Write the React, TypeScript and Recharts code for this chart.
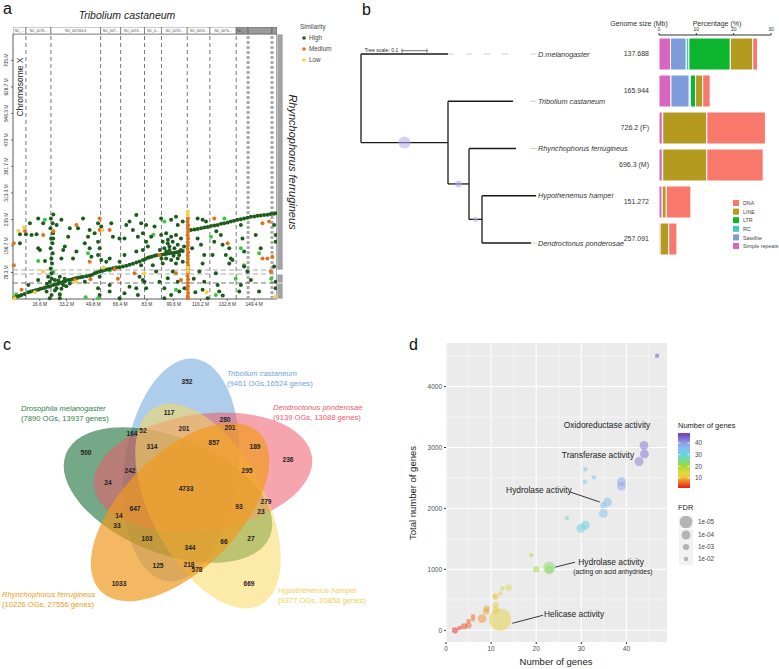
import React from 'react';
import {
  ScatterChart, Scatter, XAxis, YAxis, ReferenceLine, ReferenceArea, CartesianGrid,
  BarChart, Bar, ComposedChart, Line, LabelList,
} from 'recharts';

const FONT = '"Liberation Sans", Arial, Helvetica, sans-serif';

// ---------- panel a: synteny dot plot (Mb) ----------
const dotTicksX = [16.6, 33.2, 49.8, 66.4, 83, 99.6, 116.2, 132.8, 149.4];
const dotTicksY = [78.3, 156.7, 235, 313.3, 391.7, 470, 548.3, 626.7, 705];
const triboliumChrEnds = [8.0, 23.5, 54.3, 66.7, 81.5, 92, 108, 122, 138.3, 145.7, 160.5, 163.6];
const triboliumChrNames = ['NC_...', 'NC_0074...', 'NC_007416.3', 'NC_007...', 'NC_0074...', 'NC_0...', 'NC_0074...', 'NC_0074...', 'NC_0074...', 'NC_...', '', ''];
const rhynchoChrEnds = [47.3, 73.9, 85.7, 783];

const highPts = [
  [0.8, 3], [2.3, 7], [5.3, 12], [9.5, 20], [12.6, 24], [15.6, 27], [18.7, 32], [21.8, 36], [24.9, 41], [28, 45], [31.1, 51],
  [34.2, 56], [37.2, 59], [40.3, 63], [43.4, 66], [47.5, 69], [50.6, 76], [53.7, 81], [56.8, 86], [59.9, 89], [64, 93], [68.1, 96],
  [72.2, 101], [76.4, 108], [80.5, 115], [83.6, 122], [84.6, 123], [87.7, 128], [93.8, 132], [96.9, 135], [100, 137], [103.1, 140], [105.2, 142],
  [110.3, 204], [114.4, 207], [118.5, 211], [122.7, 216], [126.8, 219], [130.9, 224], [135, 229], [139.1, 234], [143.2, 238], [147.4, 243],
  [151.5, 246], [155.6, 248], [159.7, 251], [162.8, 253],
  [1.5, 5], [3.8, 9], [7.2, 15], [11, 22], [14, 26], [17, 30], [20, 34], [23, 38], [26.5, 43], [29.5, 48], [32.5, 53], [35.7, 57],
  [38.8, 61], [42, 64], [45.5, 67], [49, 72], [52, 78], [55.2, 83], [58.3, 87], [62, 91], [66, 94], [70.2, 98], [74.3, 104], [78.4, 111],
  [82, 118], [86, 125], [89, 129], [92, 131], [95.4, 134], [98.5, 136], [101.5, 138], [112.4, 205], [116.5, 209], [120.6, 213], [124.8, 217],
  [128.9, 222], [133, 226], [137, 231], [141.2, 236], [145.3, 240], [149.5, 244], [153.5, 247], [157.7, 249], [161.5, 252],
  [21.8, 66], [23.9, 76], [25.9, 56], [29, 66], [22.8, 51], [27, 32], [31.1, 41], [35.2, 46], [20.8, 22], [23.9, 12], [29, 14], [22.8, 2],
  [26, 25], [30, 30], [33, 38], [24, 60], [28, 55], [32, 60], [21, 45],
  [23.5, 238], [24.5, 224], [23.2, 209], [24.8, 194], [23.6, 179], [24.4, 165], [23.3, 150], [24.6, 135], [23.8, 120], [24.2, 105], [23.4, 90], [25, 250],
  [4.3, 191], [8, 191], [10.5, 224], [11.5, 189], [15.6, 238], [18.7, 224], [14.6, 191], [27, 219], [30, 234], [35.2, 209], [34.2, 184],
  [40.3, 209], [43.4, 238], [47.5, 204], [50.6, 194], [52.7, 224], [54.7, 214], [60.9, 224], [61.9, 184], [69.1, 179], [72.2, 229],
  [74.3, 204], [76.4, 248], [79.4, 224], [80.5, 194], [82.5, 169], [77.4, 184],
  [4.3, 165], [15.6, 150], [16.7, 145], [19.8, 112], [24.9, 179], [30, 120], [31.1, 145], [32.1, 155], [39.3, 140], [37.2, 120], [44.5, 165],
  [46.5, 184], [47.5, 150], [48.6, 125], [52.7, 169], [53.7, 150], [52.7, 130], [54.7, 115], [57.8, 110], [59.9, 120], [66, 179], [69.1, 130],
  [66, 110], [70.2, 219], [76.4, 140], [79.4, 100], [80.5, 145], [78.4, 66], [80.5, 56], [81.5, 51], [76.4, 32], [77.4, 12], [82.5, 32],
  [9.5, 41], [15.6, 56], [29, 2], [44.5, 51], [53.7, 66], [52.7, 32], [53.7, 12], [59.9, 41], [59.9, 22], [66, 2], [69.1, 17], [72.2, 36],
  [91.8, 189], [94.9, 194], [98, 184], [101, 189], [104.1, 179], [92.8, 169], [95.9, 165], [99, 169], [102.1, 160], [93.8, 150], [96.9, 155],
  [100, 150], [104.1, 145], [94.9, 120], [98, 115], [102.1, 120], [105.2, 110], [101, 105], [92.8, 105], [91.8, 238], [98, 234], [101, 243],
  [102.1, 219], [105.2, 229], [87.7, 214], [85.6, 184], [83.6, 155], [82.5, 219], [86.6, 100], [88.7, 81], [90.8, 51], [93.8, 32], [95.9, 61],
  [99, 81], [102.1, 51], [103.1, 22], [106.2, 32], [98, 12], [93.8, 2], [97, 145], [103, 130], [95, 140], [91, 145], [106, 155], [99.5, 128],
  [92, 120], [96, 175],
  [114.4, 238], [117.5, 234], [119.6, 229], [114.4, 179], [116.5, 160], [118.5, 130], [117.5, 105], [115.5, 81], [124.7, 169], [123.7, 130],
  [125.7, 76], [128.8, 189], [129.9, 160], [134, 150], [131.9, 130], [135, 120], [134, 105], [136, 115], [126.8, 41], [127.8, 22], [118.5, 51],
  [117.5, 27], [120.6, 2], [141.2, 219], [142.2, 179], [143.2, 140], [143.2, 96], [145.3, 81], [141.2, 41], [140.2, 22], [147.4, 56],
  [150.4, 189], [153.5, 150], [161.8, 96], [161.8, 219], [162.8, 189], [162.8, 169], [152.5, 22], [162.8, 51], [162.8, 32], [130, 10],
  [126, 200], [111, 150], [112, 60], [113, 20],
];
const brightPts = [
  [19.8, 234], [15.6, 112], [46.5, 135], [29, 12], [52.7, 2], [93.8, 229], [101, 27], [108.3, 219], [122.7, 184], [125.7, 12], [141.2, 150],
  [143.2, 100], [152.5, 135], [25, 80], [60, 84], [2, 14], [45, 5], [138, 60], [160, 60], [131, 238], [87, 190],
];
const medPts = [
  [7.4, 201], [18.7, 189], [39.3, 219], [53.7, 238], [53.7, 204], [59.9, 204], [0.5, 165], [0.5, 100], [47.5, 110], [75.3, 76], [5.3, 27],
  [38.3, 56], [90.8, 130], [101, 76], [104.1, 56], [124.7, 238], [133, 165], [154.6, 120], [157.6, 120], [160.7, 125], [154.6, 224],
  [158.7, 229], [159.7, 81], [25, 200], [63, 88], [65, 60], [48, 58],
  [108.4, 238], [108.2, 228], [108.5, 218], [108.3, 208], [108.4, 198], [108.2, 188], [108.5, 178], [108.3, 168], [108.4, 158], [108.2, 148],
  [108.5, 138], [108.3, 128], [108.4, 118], [108.2, 108], [108.5, 98], [108.3, 88], [108.4, 78], [108.2, 68], [108.5, 58], [108.3, 48],
  [108.4, 38], [108.2, 28], [108.5, 18], [108.3, 8], [108.4, 3],
];
const lowPts = [
  [3.3, 201], [6.8, 211], [55.4, 204], [18.7, 81], [13.6, 20], [39.3, 51], [81.5, 76], [162.8, 7], [108.3, 258], [108.3, 248], [108.3, 92],
  [108.3, 82], [120, 20], [1, 2], [56, 93],
];

const similarity = [
  { name: 'High', color: '#1e5c1e', pts: highPts },
  { name: 'Medium', color: '#e0721c', pts: medPts },
  { name: 'Low', color: '#f7cf45', pts: lowPts },
];
const brightColor = '#3cc63c';

const toXY = (arr: number[][]) => arr.map(([x, y]) => ({ x, y }));

const RotTick = (p: any) => (
  <text x={p.x - 1} y={p.y} transform={`rotate(-90 ${p.x - 1} ${p.y})`} textAnchor="middle" fontSize={4.8} fill="#333">
    {`${p.payload.value} M`}
  </text>
);

const PanelA = () => {
  const chrLens = triboliumChrEnds.map((e, i) => +(e - (i ? triboliumChrEnds[i - 1] : 0)).toFixed(2));
  const stripRow: any = { name: 'T' };
  chrLens.forEach((v, i) => (stripRow[`c${i}`] = v));
  const rLens = rhynchoChrEnds.map((e, i) => +(e - (i ? rhynchoChrEnds[i - 1] : 0)).toFixed(2));
  const rRow: any = { name: 'R' };
  rLens.forEach((v, i) => (rRow[`r${i}`] = v));
  const m0 = { top: 0, right: 0, bottom: 0, left: 0 };
  return (
    <>
      <div style={{ position: 'absolute', left: 0, top: 0 }}>
        <ScatterChart width={290} height={312} margin={{ top: 34, right: 13, bottom: 0, left: 0 }}>
          <XAxis type="number" dataKey="x" domain={[0, 163.6]} ticks={dotTicksX} tickFormatter={(v) => `${v} M`}
            height={13} tickSize={2} axisLine={false} tick={{ fontSize: 4.8, fill: '#333' }} interval={0} />
          <YAxis type="number" dataKey="y" domain={[0, 783]} ticks={dotTicksY} width={13} tickSize={2}
            axisLine={false} tick={RotTick} interval={0} />
          {triboliumChrEnds.slice(0, 9).map((e) => (
            <ReferenceLine key={e} x={e} stroke="#555" strokeDasharray="4 3" strokeWidth={0.8} />
          ))}
          {triboliumChrEnds.slice(9, 11).map((e) => (
            <ReferenceLine key={e} x={e} stroke="#aaa" strokeDasharray="3 2" strokeWidth={3} />
          ))}
          {rhynchoChrEnds.slice(0, 3).map((e, i) => (
            <ReferenceLine key={e} y={e} stroke={i === 0 ? '#777' : '#aaa'} strokeDasharray="5 3" strokeWidth={1.2} />
          ))}
          <Scatter data={toXY(brightPts)} isAnimationActive={false}
            shape={(p: any) => <circle cx={p.cx} cy={p.cy} r={2} fill={brightColor} />} />
          {similarity.map((s) => (
            <Scatter key={s.name} data={toXY(s.pts)} isAnimationActive={false}
              shape={(p: any) => <circle cx={p.cx} cy={p.cy} r={2} fill={s.color} />} />
          ))}
          <ReferenceArea x1={0} x2={163.6} y1={0} y2={783} fill="none" stroke="#333" strokeWidth={0.8} />
        </ScatterChart>
      </div>
      <div style={{ position: 'absolute', left: 13, top: 27 }}>
        <BarChart width={264} height={7} data={[stripRow]} layout="vertical" margin={m0} barCategoryGap={0}>
          <XAxis type="number" hide domain={[0, 163.6]} />
          <YAxis type="category" dataKey="name" hide />
          {chrLens.map((_, i) => (
            <Bar key={i} dataKey={`c${i}`} stackId="s" fill={i < 9 ? '#fff' : '#9a9a9a'} stroke="#555" strokeWidth={0.6} isAnimationActive={false}>
              <LabelList content={(p: any) => (
                <text x={p.x + p.width / 2} y={p.y + p.height / 2 + 1.2} textAnchor="middle" fontSize={3.4} fill="#444">{triboliumChrNames[i]}</text>
              )} />
            </Bar>
          ))}
        </BarChart>
      </div>
      <div style={{ position: 'absolute', left: 277, top: 34 }}>
        <BarChart width={6} height={265} data={[rRow]} margin={m0} barCategoryGap={0}>
          <XAxis type="category" dataKey="name" hide />
          <YAxis type="number" domain={[0, 783]} hide />
          {rLens.map((_, i) => (
            <Bar key={i} dataKey={`r${i}`} stackId="r" fill={i === 2 ? '#fff' : '#a3a3a3'} stroke="#fff" strokeWidth={0.6} isAnimationActive={false} />
          ))}
        </BarChart>
      </div>
    </>
  );
};

// ---------- panel b: phylogeny + repeat composition ----------
const treeNodes = [
  { id: 'root', parent: '', len: 0 },
  { id: 'dmel', parent: 'root', len: 0.348, label: 'D.melanogaster' },
  { id: 'n1', parent: 'root', len: 0.348, support: 1 },
  { id: 'trib', parent: 'n1', len: 0.26, label: 'Tribolium castaneum' },
  { id: 'n2', parent: 'n1', len: 0.084, support: 0.58 },
  { id: 'rhyn', parent: 'n2', len: 0.188, label: 'Rhynchophorus ferrugineus' },
  { id: 'n3', parent: 'n2', len: 0.052, support: 0.42 },
  { id: 'hypo', parent: 'n3', len: 0.216, label: 'Hypothenemus hampei' },
  { id: 'dend', parent: 'n3', len: 0.196, label: 'Dendroctonus ponderosae' },
];
const alignTipTo = 0.624;

const genomeLabels = ['137.688', '165.944', '726.2 (F)', '696.3 (M)', '151.272', '257.091'];
const simpleRepeats = [3.1, 3.2, 0.9, 0.9, 0.85, 0.3];
const satellite = [4.2, 4.9, 0, 0, 0, 0];
const rcRepeats = [0.7, 0.3, 0, 0, 0, 0];
const ltr = [11.1, 1.4, 0.1, 0.1, 0, 0];
const lineRepeats = [6.0, 1.9, 11.8, 11.8, 1.1, 2.3];
const dnaRepeats = [1.3, 2.0, 15.7, 15.1, 6.6, 2.2];
const repeatSeries = [
  { key: 'Simple repeats', vals: simpleRepeats, color: '#d866c0' },
  { key: 'Satellite', vals: satellite, color: '#7d9cd9' },
  { key: 'RC', vals: rcRepeats, color: '#45c6c8' },
  { key: 'LTR', vals: ltr, color: '#0db52f' },
  { key: 'LINE', vals: lineRepeats, color: '#b49a1f' },
  { key: 'DNA', vals: dnaRepeats, color: '#f8786c' },
];

function layoutTree() {
  const byId: Record<string, any> = {};
  treeNodes.forEach((n) => (byId[n.id] = { ...n, children: [] as string[] }));
  treeNodes.forEach((n) => { if (n.parent) byId[n.parent].children.push(n.id); });
  let tip = 0;
  const walk = (id: string, x0: number) => {
    const n = byId[id];
    n.x = x0 + n.len;
    if (!n.children.length) { n.y = tip++; return; }
    n.children.forEach((c: string) => walk(c, n.x));
    const ys = n.children.map((c: string) => byId[c].y);
    n.y0 = Math.min(...ys); n.y1 = Math.max(...ys); n.y = (n.y0 + n.y1) / 2;
  };
  walk('root', 0);
  return byId;
}

const SizeTick = (p: any) => (
  <text x={p.x} y={p.y + 2.5} textAnchor="end" fontSize={7} fill="#333">{p.payload.value}</text>
);

const PanelB = () => {
  const t = layoutTree();
  const nodes = Object.values(t) as any[];
  const segs: { x: number; y: number }[][] = [];
  nodes.forEach((n) => {
    if (n.parent) segs.push([{ x: t[n.parent].x, y: n.y }, { x: n.x, y: n.y }]);
    if (n.children.length) segs.push([{ x: n.x, y: n.y0 }, { x: n.x, y: n.y1 }]);
  });
  const tips = nodes.filter((n) => n.label);
  const supports = nodes.filter((n) => n.support).map((n) => ({ x: t[n.parent].x + n.len / 2, y: n.y, s: n.support }));
  const rows = genomeLabels.map((g, i) => {
    const r: any = { label: g };
    repeatSeries.forEach((s) => (r[s.key] = s.vals[i]));
    return r;
  });
  return (
    <>
      <div style={{ position: 'absolute', left: 355, top: 0 }}>
        <ComposedChart width={296} height={270} margin={{ top: 25.65, right: 0, bottom: 8.1, left: 6 }}>
          <XAxis type="number" dataKey="x" domain={[0, 1.16]} hide />
          <YAxis type="number" dataKey="y" domain={[-0.6, 4.4]} reversed hide />
          <Line data={[{ x: t.dmel.x, y: t.dmel.y }, { x: alignTipTo, y: t.dmel.y }]} dataKey="y" stroke="#cfcfcf"
            strokeDasharray="6 12" strokeWidth={1} dot={false} isAnimationActive={false} />
          {tips.map((n) => (
            <Line key={'l' + n.id} data={[{ x: Math.max(n.x, 0.676), y: n.y }, { x: 0.703, y: n.y }]} dataKey="y"
              stroke="#bdbdbd" strokeWidth={0.7} dot={false} isAnimationActive={false} />
          ))}
          {segs.map((s, i) => (
            <Line key={i} data={s} dataKey="y" stroke="#1a1a1a" strokeWidth={1.3} dot={false} isAnimationActive={false} />
          ))}
          <Line data={[{ x: 0.164, y: -0.07 }, { x: 0.264, y: -0.07 }]} dataKey="y" stroke="#333" strokeWidth={0.7}
            isAnimationActive={false}
            dot={(p: any) => <line key={p.index} x1={p.cx} x2={p.cx} y1={p.cy - 2} y2={p.cy + 2} stroke="#333" strokeWidth={0.7} />} />
          <Scatter data={supports} dataKey="y" isAnimationActive={false}
            shape={(p: any) => <circle cx={p.cx} cy={p.cy} r={6 * p.payload.s} fill="#b4a8ec" fillOpacity={0.55} />} />
          <Scatter data={tips.map((n) => ({ x: 0.708, y: n.y, label: n.label }))} dataKey="y" isAnimationActive={false}
            shape={(p: any) => (
              <text x={p.cx} y={p.cy + 2.6} fontSize={7.3} fontStyle="italic" fill="#333">{p.payload.label}</text>
            )} />
          <Scatter data={[{ x: 0.15, y: -0.07 }]} dataKey="y" isAnimationActive={false}
            shape={(p: any) => <text x={p.cx} y={p.cy + 1.5} fontSize={5.2} textAnchor="end" fill="#333">Tree scale: 0.1</text>} />
        </ComposedChart>
      </div>
      <div style={{ position: 'absolute', left: 610, top: 20 }}>
        <BarChart width={169} height={237} data={rows} layout="vertical" margin={{ top: 0, right: 8, bottom: 0, left: 0 }} barSize={32}>
          <XAxis type="number" orientation="top" domain={[0, 30]} ticks={[0, 10, 20, 30]} height={15} tickSize={2}
            tick={{ fontSize: 5, fill: '#333' }} stroke="#333" interval={0} />
          <YAxis type="category" dataKey="label" width={49} tickLine={false} axisLine={false} tickMargin={4}
            tick={SizeTick} interval={0} />
          {repeatSeries.map((s) => (
            <Bar key={s.key} dataKey={s.key} stackId="p" fill={s.color} stroke="#fff" strokeWidth={1} isAnimationActive={false} />
          ))}
        </BarChart>
      </div>
    </>
  );
};

// ---------- panel c: five-way Venn of orthogroups ----------
const vennSets = ['Tribolium castaneum', 'Drosophila melanogaster', 'Dendroctonus ponderosae', 'Rhynchophorus ferrugineus', 'Hypothenemus hampei'];
const vennSetInfo = ['(9461 OGs,16524 genes)', '(7890 OGs, 13937 genes)', '(9139 OGs, 13088 genes)', '(10226 OGs, 27556 genes)', '(9377 OGs, 20856 genes)'];
const vennColors = ['#5b9bd5', '#2a7a45', '#ee5a6a', '#f09a20', '#f8d860'];
const vennTextColors = ['#6fa3dd', '#2e7d4a', '#ee5a6a', '#f09a20', '#f2cf4e'];
const vennOpacity = [0.5, 0.65, 0.55, 0.7, 0.55];
// layout: centre x, centre y, semi-axes, rotation
const vennEllipses = [[181, 470, 112, 57, 97], [168, 495, 110, 58, 22], [203, 472, 110, 58, -8], [180, 512, 112, 58, -45], [208, 506, 112, 57, 62]];
const vennLabelPos = [[227, 376], [21, 411], [273, 410], [2, 597], [278, 593]];
const vennCounts = [352, 117, 280, 201, 201, 164, 52, 314, 857, 189, 500, 236, 242, 295, 24, 4733, 93, 279, 23, 647, 14, 33, 103, 27, 66, 344, 125, 218, 578, 1033, 669];
const vennCountPos = [[187, 382], [169, 413], [225, 420], [230, 428], [184, 429], [132, 434], [143, 431], [152, 447], [214, 443], [255, 447],
  [86, 453], [288, 460], [130, 471], [247, 471], [108, 483], [186, 489], [239, 507], [266, 502], [261, 512], [135, 509], [119, 516], [117, 526],
  [147, 539], [251, 539], [224, 542], [190, 548], [158, 566], [189, 565], [197, 570], [119, 584], [249, 584]];

const PanelC = () => {
  const order = [0, 1, 2, 4, 3];
  const ell = order.map((i) => ({ x: vennEllipses[i][0], y: vennEllipses[i][1], rx: vennEllipses[i][2], ry: vennEllipses[i][3], a: vennEllipses[i][4], i }));
  const counts = vennCounts.map((c, i) => ({ x: vennCountPos[i][0], y: vennCountPos[i][1], c }));
  const labels = vennSets.map((s, i) => ({ x: vennLabelPos[i][0], y: vennLabelPos[i][1], s, i }));
  return (
    <div style={{ position: 'absolute', left: 0, top: 335 }}>
      <ScatterChart width={400} height={320} margin={{ top: 0, right: 0, bottom: 0, left: 0 }}>
        <XAxis type="number" dataKey="x" domain={[0, 400]} hide />
        <YAxis type="number" dataKey="y" domain={[335, 655]} reversed hide />
        <Scatter data={ell} isAnimationActive={false}
          shape={(p: any) => (
            <ellipse cx={p.cx} cy={p.cy} rx={p.payload.rx} ry={p.payload.ry} transform={`rotate(${p.payload.a} ${p.cx} ${p.cy})`}
              fill={vennColors[p.payload.i]} fillOpacity={vennOpacity[p.payload.i]} />
          )} />
        <Scatter data={counts} isAnimationActive={false}
          shape={(p: any) => (
            <text x={p.cx} y={p.cy + 2.4} textAnchor="middle" fontSize={6.6} fontWeight="bold" fill="#222">{p.payload.c}</text>
          )} />
        <Scatter data={labels} isAnimationActive={false}
          shape={(p: any) => (
            <g fill={vennTextColors[p.payload.i]} fontSize={7.6}>
              <text x={p.cx} y={p.cy} fontStyle="italic">{p.payload.s}</text>
              <text x={p.cx} y={p.cy + 10}>{vennSetInfo[p.payload.i]}</text>
            </g>
          )} />
      </ScatterChart>
    </div>
  );
};

// ---------- panel d: GO enrichment bubbles ----------
const goGenes = [46.8, 43.9, 44.0, 42.8, 38.9, 38.9, 35.8, 34.9, 34.9, 30.9, 32.8, 30.8, 26.8, 29.9, 30.9, 22.9, 22.9, 20.0, 18.9, 13.9,
  12.5, 12.0, 10.8, 12.0, 11.0, 11.0, 11.0, 9.0, 8.0, 6.0, 6.0, 5.0, 5.0, 4.0, 3.0, 2.0, 8.9];
const goTotal = [4506, 3035, 2895, 2770, 2439, 2365, 2105, 2056, 1919, 2643, 2511, 2439, 1842, 1673, 1727, 1031, 990, 998, 1234, 702,
  686, 603, 564, 175, 330, 410, 550, 356, 192, 230, 180, 82, 153, 66, 38, 0, 310];
const goFdr = [1e-2, 1e-4, 1e-4, 1e-4, 1e-4, 1e-4, 1e-4, 1e-3, 1e-4, 1e-2, 1e-2, 1e-2, 1e-2, 1e-4, 1e-4, 1.4e-5, 1e-4, 1e-3, 1e-2, 1e-3,
  1e-2, 1e-2, 1e-2, 2.5e-7, 1e-3, 1e-3, 1e-3, 1e-3, 1e-4, 1e-2, 1e-2, 1e-3, 1e-2, 1e-3, 1e-2, 1e-3, 1e-3];
const goNotes = [
  { x: 35.7, y: 3372, text: 'Oxidoreductase activity' },
  { x: 33.7, y: 2878, text: 'Transferase activity' },
  { x: 20.6, y: 2303, text: 'Hydrolase activity' },
  { x: 36.6, y: 1118, text: 'Hydrolase activity' },
  { x: 37.0, y: 975, text: '(acting on acid anhydrides)', small: true },
  { x: 28.4, y: 263, text: 'Helicase activity' },
];
const goLeaders = [
  [[27.5, 2270], [34.1, 2105]],
  [[24.2, 1036], [28.6, 1118]],
  [[14.7, 115], [21.5, 247]],
];
const fdrLegend = [1e-5, 1e-4, 1e-3, 1e-2];
const colorStops: [number, string][] = [[2, '#e3261e'], [5, '#ee5a20'], [8, '#f0902a'], [11, '#e8cc40'], [15, '#d8dc40'], [20, '#a8d830'],
  [25, '#78dc90'], [30, '#62d4dc'], [35, '#82c0f0'], [40, '#929ce6'], [47, '#7448c4']];

const hex = (c: string) => [1, 3, 5].map((k) => parseInt(c.slice(k, k + 2), 16));
function geneColor(v: number) {
  if (v <= colorStops[0][0]) return colorStops[0][1];
  for (let i = 1; i < colorStops.length; i++) {
    const [v1, c1] = colorStops[i];
    if (v <= v1) {
      const [v0, c0] = colorStops[i - 1];
      const f = (v - v0) / (v1 - v0);
      const a = hex(c0), b = hex(c1);
      return `rgb(${a.map((x, k) => Math.round(x + (b[k] - x) * f)).join(',')})`;
    }
  }
  return colorStops[colorStops.length - 1][1];
}
const fdrRadius = (f: number) => 2.2 * Math.pow(1.42, -Math.log10(f) - 2);

const PanelD = () => {
  const pts = goGenes.map((g, i) => ({ x: g, y: goTotal[i], fdr: goFdr[i] }));
  const tickStyle = { fontSize: 6.5, fill: '#4d4d4d' };
  return (
    <div style={{ position: 'absolute', left: 400, top: 330 }}>
      <ScatterChart width={379} height={339} margin={{ top: 13, right: 112, bottom: 0, left: 0 }}>
        <CartesianGrid fill="#ebebeb" stroke="#fff" strokeWidth={0.5}
          horizontalValues={[500, 1500, 2500, 3500, 4500]} verticalValues={[5, 15, 25, 35, 45]} />
        {[0, 1000, 2000, 3000, 4000].map((v) => <ReferenceLine key={'h' + v} y={v} stroke="#fff" strokeWidth={1.1} />)}
        {[0, 10, 20, 30, 40].map((v) => <ReferenceLine key={'v' + v} x={v} stroke="#fff" strokeWidth={1.1} />)}
        <XAxis type="number" dataKey="x" domain={[0, 49]} ticks={[0, 10, 20, 30, 40]} height={27} tickSize={2}
          axisLine={false} tick={tickStyle} stroke="#333" interval={0} />
        <YAxis type="number" dataKey="y" domain={[-192, 4715]} ticks={[0, 1000, 2000, 3000, 4000]} width={46} tickSize={2}
          axisLine={false} tick={tickStyle} stroke="#333" interval={0} />
        <Scatter data={pts} isAnimationActive={false}
          shape={(p: any) => <circle cx={p.cx} cy={p.cy} r={fdrRadius(p.payload.fdr)} fill={geneColor(p.payload.x)} fillOpacity={0.5} />} />
        {goLeaders.map((l, i) => (
          <ReferenceLine key={'l' + i} segment={[{ x: l[0][0], y: l[0][1] }, { x: l[1][0], y: l[1][1] }]} stroke="#222" strokeWidth={0.9} />
        ))}
        <Scatter data={goNotes} isAnimationActive={false}
          shape={(p: any) => (
            <text x={p.cx} y={p.cy + 3} textAnchor="middle" fontSize={p.payload.small ? 6.6 : 8.4} fill="#222">{p.payload.text}</text>
          )} />
      </ScatterChart>
    </div>
  );
};

const Overlay = () => {
  const cbTop = 433, cbBot = 488, vTop = 48.6, vBot = 1.43;
  const cbY = (v: number) => cbBot - ((v - vBot) / (vTop - vBot)) * (cbBot - cbTop);
  const legendB = [...repeatSeries].reverse();
  return (
    <svg width={779} height={669} style={{ position: 'absolute', left: 0, top: 0, pointerEvents: 'none' }} fontFamily={FONT}>
      <defs>
        <linearGradient id="cb" x1="0" y1="1" x2="0" y2="0">
          {colorStops.map(([v, c]) => <stop key={v} offset={(v - vBot) / (vTop - vBot)} stopColor={c} />)}
        </linearGradient>
      </defs>
      <text x={3} y={14} fontSize={16} fill="#111">a</text>
      <text x={362} y={15} fontSize={16} fill="#111">b</text>
      <text x={3} y={350} fontSize={16} fill="#111">c</text>
      <text x={409} y={350} fontSize={16} fill="#111">d</text>
      {/* a */}
      <text x={127} y={19} fontSize={10.5} fontStyle="italic" textAnchor="middle" fill="#222">Tribolium castaneum</text>
      <text x={289} y={162} fontSize={11} fontStyle="italic" textAnchor="middle" fill="#222" transform="rotate(90 289 162)">Rhynchophorus ferrugineus</text>
      <text x={23} y={87} fontSize={8.5} textAnchor="middle" fill="#222" transform="rotate(-90 23 87)">Chromosome X</text>
      <text x={300} y={29} fontSize={6.3} fill="#444">Similarity</text>
      {similarity.map((s, i) => (
        <g key={s.name}>
          <circle cx={304} cy={38 + i * 11} r={1.8} fill={s.color} />
          <text x={309} y={40.2 + i * 11} fontSize={6.3} fill="#444">{s.name}</text>
        </g>
      ))}
      {/* b */}
      <text x={639} y={26} fontSize={7} textAnchor="middle" fill="#333">Genome size (Mb)</text>
      <text x={717} y={26} fontSize={7} textAnchor="middle" fill="#333">Percentage (%)</text>
      {legendB.map((s, i) => (
        <g key={s.key}>
          <rect x={733} y={200 + i * 8.6} width={6} height={6} fill={s.color} />
          <text x={743} y={205.2 + i * 8.6} fontSize={5.3} fill="#444">{s.key}</text>
        </g>
      ))}
      {/* d */}
      <text x={556} y={665} fontSize={9.5} textAnchor="middle" fill="#222">Number of genes</text>
      <text x={416} y={493} fontSize={9.5} textAnchor="middle" fill="#222" transform="rotate(-90 416 493)">Total number of genes</text>
      <text x={678} y={428} fontSize={7.5} fill="#222">Number of genes</text>
      <rect x={678} y={cbTop} width={12} height={cbBot - cbTop} fill="url(#cb)" />
      {[10, 20, 30, 40].map((v) => (
        <g key={v}>
          <line x1={678} x2={680.5} y1={cbY(v)} y2={cbY(v)} stroke="#fff" strokeWidth={0.8} />
          <line x1={687.5} x2={690} y1={cbY(v)} y2={cbY(v)} stroke="#fff" strokeWidth={0.8} />
          <text x={695} y={cbY(v) + 2.3} fontSize={6.3} fill="#444">{v}</text>
        </g>
      ))}
      <text x={678} y={510} fontSize={7.5} fill="#222">FDR</text>
      {fdrLegend.map((f, i) => {
        const cy = [522, 535, 547, 559][i];
        return (
          <g key={f}>
            <rect x={679} y={cy - 6} width={14} height={12} fill="#f2f2f2" />
            <circle cx={686} cy={cy} r={fdrRadius(f)} fill="#9a9a9a" fillOpacity={0.7} />
            <text x={698} y={cy + 2.3} fontSize={6.3} fill="#444">{f.toExponential(0).replace('e-', 'e-0')}</text>
          </g>
        );
      })}
    </svg>
  );
};

export default function App() {
  return (
    <div style={{ position: 'absolute', left: 0, top: 0, width: 779, height: 669, background: '#fff', fontFamily: FONT, overflow: 'hidden' }}>
      <PanelA />
      <PanelB />
      <PanelC />
      <PanelD />
      <Overlay />
    </div>
  );
}
